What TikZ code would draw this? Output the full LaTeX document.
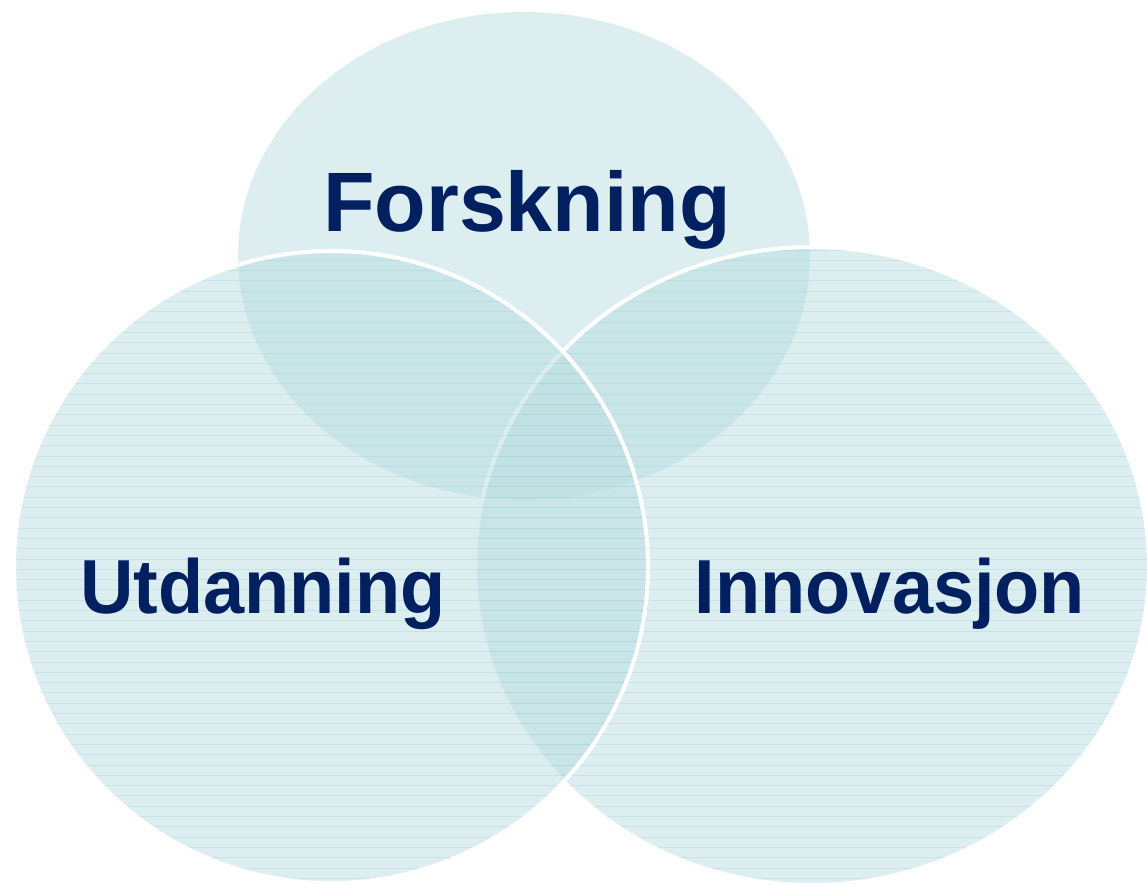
\documentclass[tikz,border=0pt]{standalone}
\usepackage{fontspec}
\setmainfont{Liberation Sans}
\usepackage{xcolor}
\usepackage{tikz}
\definecolor{ink}{HTML}{002060}
\definecolor{fillc}{HTML}{B9DDE1}
\definecolor{hatch}{HTML}{89C6CB}
\tikzset{
  blob/.style={fill=fillc, fill opacity=0.5},
  rim/.style={draw=white, line width=2.3pt},
  hatchline/.style={draw=hatch, draw opacity=0.25, line width=0.5pt},
  labbase/.style={text=ink, inner sep=0pt, anchor=base},
  lab/.style={labbase, font=\bfseries\fontsize{43.6}{50}\selectfont, xscale=0.965, transform shape},
  labbig/.style={labbase, font=\bfseries\fontsize{48}{56}\selectfont},
}

\begin{document}
\begin{tikzpicture}[x=0.02cm, y=-0.02cm]
  \coordinate (F) at (524,256);
  \coordinate (U) at (331,567);
  \coordinate (I) at (812,566);
  \useasboundingbox (0,0) rectangle (1148,884);
  \clip (0,0) rectangle (1148,884);

  % top
  \fill[blob] (F) ellipse [x radius=286, y radius=244];

  % right
  \fill[blob] (I) ellipse [x radius=337, y radius=319];
  \begin{scope}
    \clip (I) ellipse [x radius=337, y radius=319];
    \foreach \y in {250,260.3,...,890}
      \draw[hatchline] (470,\y) -- (1150,\y);
  \end{scope}
  \draw[rim] (I) ellipse [x radius=337, y radius=319];

  % left
  \fill[blob] (U) ellipse [x radius=317, y radius=316];
  \begin{scope}
    \clip (U) ellipse [x radius=317, y radius=316];
    \foreach \y in {250,260.3,...,890}
      \draw[hatchline] (10,\y) -- (650,\y);
  \end{scope}
  \draw[rim] (U) ellipse [x radius=317, y radius=316];

  \node[labbig] (forsk) at (527,232) {Forskning};
  \node[lab] (utd) at (263,613) {Utdanning};
  \node[lab] (innov) at (890,613) {Innovasjon};
\end{tikzpicture}
\end{document}
